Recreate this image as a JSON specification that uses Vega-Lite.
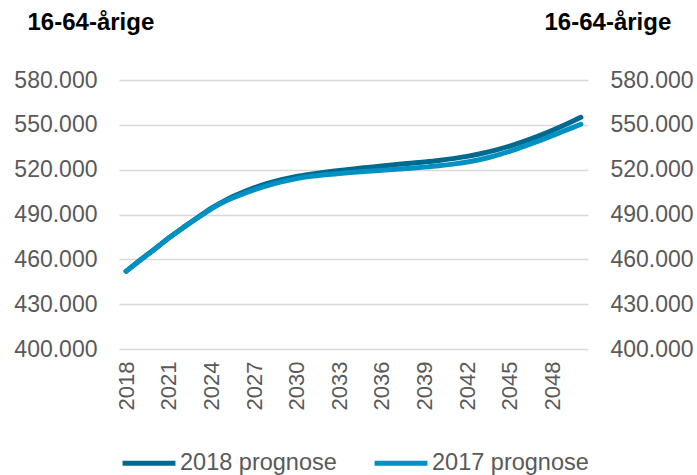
{
  "$schema": "https://vega.github.io/schema/vega-lite/v6.json",
  "width": 469,
  "height": 269,
  "autosize": "none",
  "padding": {"left": 119, "top": 80, "right": 109, "bottom": 126},
  "background": "white",
  "config": {
    "view": {"stroke": null},
    "font": "Liberation Sans",
    "axis": {"labelFont": "Liberation Sans", "titleFont": "Liberation Sans"}
  },
  "datasets": {
    "rows": [
      {"year": 2018, "series": "2018 prognose", "value": 452000},
      {"year": 2019, "series": "2018 prognose", "value": 459500},
      {"year": 2020, "series": "2018 prognose", "value": 466800},
      {"year": 2021, "series": "2018 prognose", "value": 474300},
      {"year": 2022, "series": "2018 prognose", "value": 481200},
      {"year": 2023, "series": "2018 prognose", "value": 487800},
      {"year": 2024, "series": "2018 prognose", "value": 494200},
      {"year": 2025, "series": "2018 prognose", "value": 499600},
      {"year": 2026, "series": "2018 prognose", "value": 504000},
      {"year": 2027, "series": "2018 prognose", "value": 507800},
      {"year": 2028, "series": "2018 prognose", "value": 511000},
      {"year": 2029, "series": "2018 prognose", "value": 513500},
      {"year": 2030, "series": "2018 prognose", "value": 515500},
      {"year": 2031, "series": "2018 prognose", "value": 517000},
      {"year": 2032, "series": "2018 prognose", "value": 518300},
      {"year": 2033, "series": "2018 prognose", "value": 519400},
      {"year": 2034, "series": "2018 prognose", "value": 520500},
      {"year": 2035, "series": "2018 prognose", "value": 521500},
      {"year": 2036, "series": "2018 prognose", "value": 522500},
      {"year": 2037, "series": "2018 prognose", "value": 523400},
      {"year": 2038, "series": "2018 prognose", "value": 524300},
      {"year": 2039, "series": "2018 prognose", "value": 525200},
      {"year": 2040, "series": "2018 prognose", "value": 526200},
      {"year": 2041, "series": "2018 prognose", "value": 527400},
      {"year": 2042, "series": "2018 prognose", "value": 528900},
      {"year": 2043, "series": "2018 prognose", "value": 530800},
      {"year": 2044, "series": "2018 prognose", "value": 533100},
      {"year": 2045, "series": "2018 prognose", "value": 535800},
      {"year": 2046, "series": "2018 prognose", "value": 538900},
      {"year": 2047, "series": "2018 prognose", "value": 542400},
      {"year": 2048, "series": "2018 prognose", "value": 546300},
      {"year": 2049, "series": "2018 prognose", "value": 550500},
      {"year": 2050, "series": "2018 prognose", "value": 555000},
      {"year": 2018, "series": "2017 prognose", "value": 452000},
      {"year": 2019, "series": "2017 prognose", "value": 459500},
      {"year": 2020, "series": "2017 prognose", "value": 466800},
      {"year": 2021, "series": "2017 prognose", "value": 474200},
      {"year": 2022, "series": "2017 prognose", "value": 481000},
      {"year": 2023, "series": "2017 prognose", "value": 487500},
      {"year": 2024, "series": "2017 prognose", "value": 493800},
      {"year": 2025, "series": "2017 prognose", "value": 499000},
      {"year": 2026, "series": "2017 prognose", "value": 503000},
      {"year": 2027, "series": "2017 prognose", "value": 506500},
      {"year": 2028, "series": "2017 prognose", "value": 509500},
      {"year": 2029, "series": "2017 prognose", "value": 512000},
      {"year": 2030, "series": "2017 prognose", "value": 514000},
      {"year": 2031, "series": "2017 prognose", "value": 515500},
      {"year": 2032, "series": "2017 prognose", "value": 516600},
      {"year": 2033, "series": "2017 prognose", "value": 517500},
      {"year": 2034, "series": "2017 prognose", "value": 518300},
      {"year": 2035, "series": "2017 prognose", "value": 519000},
      {"year": 2036, "series": "2017 prognose", "value": 519600},
      {"year": 2037, "series": "2017 prognose", "value": 520200},
      {"year": 2038, "series": "2017 prognose", "value": 520900},
      {"year": 2039, "series": "2017 prognose", "value": 521700},
      {"year": 2040, "series": "2017 prognose", "value": 522600},
      {"year": 2041, "series": "2017 prognose", "value": 523700},
      {"year": 2042, "series": "2017 prognose", "value": 525100},
      {"year": 2043, "series": "2017 prognose", "value": 527000},
      {"year": 2044, "series": "2017 prognose", "value": 529400},
      {"year": 2045, "series": "2017 prognose", "value": 532300},
      {"year": 2046, "series": "2017 prognose", "value": 535600},
      {"year": 2047, "series": "2017 prognose", "value": 539100},
      {"year": 2048, "series": "2017 prognose", "value": 542800},
      {"year": 2049, "series": "2017 prognose", "value": 546600},
      {"year": 2050, "series": "2017 prognose", "value": 550400}
    ]
  },
  "data": {"name": "rows"},
  "encoding": {
    "x": {
      "field": "year",
      "type": "ordinal",
      "sort": "ascending",
      "axis": {
        "values": [2018, 2021, 2024, 2027, 2030, 2033, 2036, 2039, 2042, 2045, 2048],
        "labelAngle": -90,
        "labelFontSize": 22,
        "labelColor": "#595959",
        "labelPadding": 12,
        "ticks": false,
        "domain": false,
        "grid": false,
        "title": null
      }
    },
    "color": {
      "field": "series",
      "type": "nominal",
      "scale": {"domain": ["2018 prognose", "2017 prognose"], "range": ["#00698F", "#0091C3"]},
      "legend": {
        "orient": "none",
        "legendX": 1,
        "legendY": 354,
        "direction": "horizontal",
        "title": null,
        "symbolType": "stroke",
        "symbolSize": 2800,
        "symbolStrokeWidth": 5,
        "labelFontSize": 23.5,
        "labelColor": "#595959",
        "labelOffset": 2,
        "columnPadding": 27
      }
    }
  },
  "layer": [
    {
      "transform": [{"filter": "datum.series === '2018 prognose'"}],
      "mark": {"type": "line", "interpolate": "monotone", "strokeWidth": 5, "strokeCap": "round"},
      "encoding": {
        "y": {
          "field": "value",
          "type": "quantitative",
          "scale": {"domain": [400000, 580000], "nice": false, "zero": false},
          "axis": {
            "orient": "left",
            "values": [400000, 430000, 460000, 490000, 520000, 550000, 580000],
            "labelExpr": "replace(format(datum.value, ','), ',', '.')",
            "labelFontSize": 23,
            "labelColor": "#595959",
            "labelPadding": 22,
            "ticks": false,
            "domain": false,
            "grid": true,
            "gridColor": "#d9d9d9",
            "gridWidth": 1.5,
            "title": "16-64-årige",
            "titleAngle": 0,
            "titleFontSize": 24,
            "titleFontWeight": "bold",
            "titleColor": "#000000",
            "titleAlign": "left",
            "titleBaseline": "middle",
            "titleX": -92,
            "titleY": -58
          }
        }
      }
    },
    {
      "transform": [{"filter": "datum.series === '2017 prognose'"}],
      "mark": {"type": "line", "interpolate": "monotone", "strokeWidth": 5, "strokeCap": "round"},
      "encoding": {
        "y": {
          "field": "value",
          "type": "quantitative",
          "scale": {"domain": [400000, 580000], "nice": false, "zero": false},
          "axis": null
        }
      }
    },
    {
      "mark": {"type": "line", "opacity": 0},
      "encoding": {
        "color": {"value": "transparent"},
        "detail": {"field": "series", "type": "nominal"},
        "y": {
          "field": "value",
          "type": "quantitative",
          "scale": {"domain": [400000, 580000], "nice": false, "zero": false},
          "axis": {
            "orient": "right",
            "values": [400000, 430000, 460000, 490000, 520000, 550000, 580000],
            "labelExpr": "replace(format(datum.value, ','), ',', '.')",
            "labelFontSize": 23,
            "labelColor": "#595959",
            "labelPadding": 22,
            "ticks": false,
            "domain": false,
            "grid": false,
            "title": "16-64-årige",
            "titleAngle": 0,
            "titleFontSize": 24,
            "titleFontWeight": "bold",
            "titleColor": "#000000",
            "titleAlign": "left",
            "titleBaseline": "middle",
            "titleX": -44,
            "titleY": -58
          }
        }
      }
    }
  ],
  "resolve": {"scale": {"y": "independent"}}
}
